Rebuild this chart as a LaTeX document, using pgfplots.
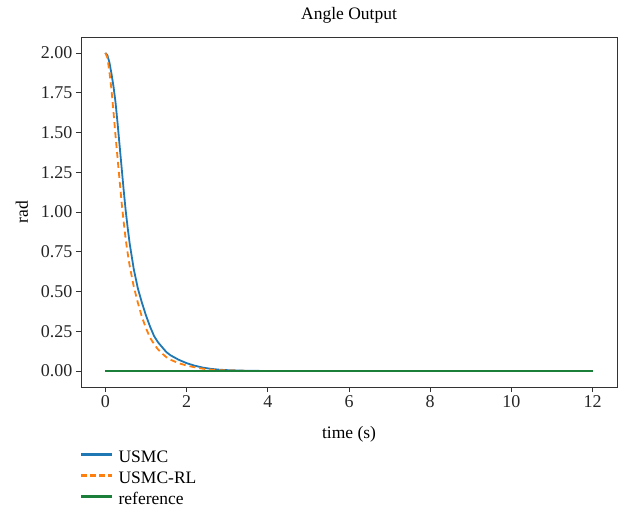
\documentclass[border=0pt]{standalone}
\usepackage{pgfplots}
\pgfplotsset{compat=1.18}
\usepackage{fontspec}
\setmainfont{Liberation Serif}
\definecolor{usmcblue}{HTML}{1F77B4}
\definecolor{corange}{HTML}{FF7F0E}
\definecolor{cgreen}{HTML}{1B7F3A}
\definecolor{axgray}{HTML}{333333}
\begin{document}
\begin{tikzpicture}[x=1pt,y=1pt]
\path[use as bounding box] (0,0) rectangle (628,512);
\begin{axis}[
  at={(81pt,125pt)}, anchor=south west,
  scale only axis, width=536pt, height=350pt,
  xmin=-0.6, xmax=12.6, ymin=-0.1, ymax=2.1,
  xtick={0,2,4,6,8,10,12},
  ytick={0,0.25,0.5,0.75,1,1.25,1.5,1.75,2},
  yticklabel style={/pgf/number format/.cd,fixed,fixed zerofill,precision=2},
  /pgf/number format/assume math mode=true,
  tick align=outside, tick pos=left,
  major tick length=5pt,
  every tick/.style={axgray, line width=0.8pt},
  axis line style={axgray, line width=1pt},
  font=\fontsize{17.5}{21}\selectfont,
  ticklabel style={font=\fontsize{18}{21}\selectfont, text=black!85},
  title={Angle Output},
  title style={yshift=4pt},
  xlabel={time (s)}, ylabel={rad},
  xlabel style={yshift=-12pt},
  ylabel style={yshift=6pt},
  legend style={draw=none, fill=none, at={(rel axis cs:0,-0.182)}, anchor=north west,
    font=\fontsize{17.5}{21}\selectfont, row sep=7.5pt, inner sep=0pt,
    nodes={fill=none, inner sep=0pt}},
  legend cell align=left,
]
\addplot[usmcblue, line width=1.8pt, forget plot] coordinates {
(0,2.000) (0.05,1.985) (0.10,1.94) (0.15,1.87) (0.20,1.79) (0.25,1.69) (0.30,1.56)
(0.35,1.42) (0.40,1.28) (0.45,1.14) (0.50,1.01) (0.55,0.90) (0.60,0.80) (0.65,0.72)
(0.70,0.64) (0.80,0.52) (0.90,0.43) (1.00,0.35) (1.10,0.28) (1.20,0.22) (1.30,0.18)
(1.40,0.15) (1.50,0.12) (1.60,0.10) (1.80,0.072) (2.00,0.050) (2.20,0.034) (2.40,0.022)
(2.60,0.014) (2.80,0.009) (3.00,0.006) (3.50,0.002) (4.00,0.0007) (5.00,0.0001) (6,0) (12,0)
};
\addplot[corange, line width=1.8pt, dash pattern=on 6pt off 4pt, forget plot] coordinates {
(0,2.000) (0.05,1.97) (0.10,1.88) (0.15,1.77) (0.20,1.63) (0.25,1.48) (0.30,1.34)
(0.35,1.20) (0.40,1.06) (0.45,0.94) (0.50,0.83) (0.55,0.74) (0.60,0.66) (0.70,0.53)
(0.80,0.43) (0.90,0.34) (1.00,0.27) (1.10,0.21) (1.20,0.17) (1.30,0.135) (1.40,0.11)
(1.50,0.088) (1.60,0.072) (1.80,0.050) (2.00,0.035) (2.20,0.024) (2.40,0.015) (2.60,0.009)
(2.80,0.006) (3.00,0.004) (3.50,0.001) (4.00,0.0003) (5,0) (12,0)
};
\addplot[cgreen, line width=1.8pt, forget plot] coordinates {(0,0) (12,0)};
\addlegendimage{legend image code/.code={
  \fill[usmcblue] (0pt,2.1pt) rectangle (30pt,3.9pt);
  \path (37pt,3pt);}}
\addlegendentry{USMC}
\addlegendimage{legend image code/.code={
  \fill[corange] (0pt,2.3pt) rectangle (5pt,3.7pt);
  \fill[corange] (9pt,2.3pt) rectangle (14pt,3.7pt);
  \fill[corange] (18pt,2.3pt) rectangle (23pt,3.7pt);
  \fill[corange] (27pt,2.3pt) rectangle (30pt,3.7pt);
  \path (37pt,3pt);}}
\addlegendentry{USMC-RL}
\addlegendimage{legend image code/.code={
  \fill[cgreen] (0pt,2.1pt) rectangle (30pt,3.9pt);
  \path (37pt,3pt);}}
\addlegendentry{reference}
\end{axis}
\end{tikzpicture}
\end{document}
